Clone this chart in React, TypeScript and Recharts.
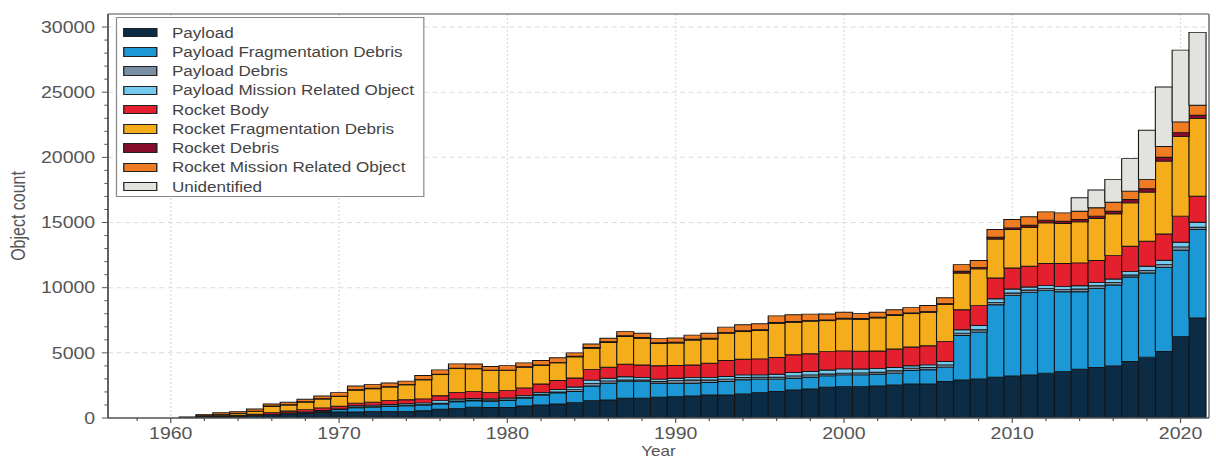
import React from 'react';
import { BarChart, Bar, XAxis, YAxis, CartesianGrid, Legend, ReferenceLine } from 'recharts';

// ---- data ----
const YEARS = [1961,1962,1963,1964,1965,1966,1967,1968,1969,1970,1971,1972,1973,1974,1975,1976,1977,1978,1979,1980,1981,1982,1983,1984,1985,1986,1987,1988,1989,1990,1991,1992,1993,1994,1995,1996,1997,1998,1999,2000,2001,2002,2003,2004,2005,2006,2007,2008,2009,2010,2011,2012,2013,2014,2015,2016,2017,2018,2019,2020,2021];

const PAYLOAD = [30,80,120,150,200,260,330,380,420,460,460,510,510,510,560,670,740,820,800,800,920,1000,1080,1180,1330,1385,1510,1510,1590,1640,1690,1770,1770,1850,1950,2030,2150,2230,2360,2410,2410,2460,2540,2620,2620,2800,2920,3000,3130,3230,3310,3440,3560,3740,3870,4000,4330,4670,5100,6260,7670];
const PAYLOAD_FRAG = [0,0,0,0,0,0,0,30,100,180,330,330,380,430,430,410,510,500,480,540,620,770,850,850,1130,1280,1280,1280,1080,1030,980,950,1030,1080,1030,950,900,900,870,900,900,900,900,1030,1080,1100,3410,3590,5560,6180,6330,6350,6130,5950,6080,6210,6490,6460,6460,6610,6790];
const PAYLOAD_DEBRIS = [0,0,0,0,0,30,40,40,30,30,30,30,30,30,40,50,60,60,50,50,50,50,60,150,200,180,130,130,130,200,250,200,180,180,150,150,180,180,150,130,150,150,180,180,180,180,180,180,180,180,180,160,160,210,200,200,150,200,210,260,180];
const PAYLOAD_MRO = [0,0,0,0,0,0,20,20,30,30,120,120,120,120,130,200,150,120,130,150,130,150,200,200,250,200,250,200,180,180,200,200,200,200,180,230,260,260,300,330,300,300,260,180,200,260,260,330,280,310,230,230,250,250,260,260,280,310,330,360,380];
const ROCKET_BODY = [20,40,60,70,90,120,150,170,200,200,200,230,310,310,310,380,510,540,510,560,590,640,690,690,820,850,950,950,1030,980,950,1080,1230,1200,1230,1280,1360,1360,1410,1380,1360,1330,1410,1440,1460,1540,1540,1520,1590,1610,1590,1670,1750,1750,1670,1790,1930,1920,2020,2000,2000];
const ROCKET_FRAG = [0,60,110,140,230,480,460,580,680,750,1000,1030,1030,1150,1460,1620,1820,1740,1670,1540,1590,1440,1360,1620,1620,1900,2130,2050,1700,1730,1910,1860,2100,2120,2170,2630,2500,2500,2380,2450,2450,2540,2580,2560,2580,2840,2820,2820,3000,2950,3000,3120,3070,3150,3230,3210,3330,3770,5590,6100,5950];
const ROCKET_DEBRIS = [0,0,0,0,0,30,30,30,30,30,30,30,30,30,30,30,30,30,30,30,30,30,30,60,60,60,60,60,60,60,60,60,60,60,60,60,60,60,60,60,60,60,60,60,60,60,130,120,130,130,150,210,180,180,180,200,260,260,300,310,260];
const ROCKET_MRO = [30,100,120,130,170,160,180,190,200,270,280,300,280,250,300,330,330,330,280,350,300,330,350,250,270,270,320,320,320,320,320,380,400,460,460,510,510,480,450,450,400,380,380,400,450,450,510,520,590,640,650,640,640,640,640,690,640,720,820,820,770];
const UNIDENTIFIED = [0,0,0,0,0,0,0,0,0,0,0,0,0,0,0,0,0,0,0,0,0,0,0,0,0,0,0,0,0,0,0,0,0,0,0,0,0,0,0,0,0,0,0,0,0,0,0,0,0,0,0,0,0,1030,1360,1750,2490,3770,4570,5510,5590];

const SERIES_KEYS = ['payload','payloadFrag','payloadDebris','payloadMro','rocketBody','rocketFrag','rocketDebris','rocketMro','unidentified'];
const SERIES_NAMES = ['Payload','Payload Fragmentation Debris','Payload Debris','Payload Mission Related Object','Rocket Body','Rocket Fragmentation Debris','Rocket Debris','Rocket Mission Related Object','Unidentified'];
const SERIES_VALUES = [PAYLOAD, PAYLOAD_FRAG, PAYLOAD_DEBRIS, PAYLOAD_MRO, ROCKET_BODY, ROCKET_FRAG, ROCKET_DEBRIS, ROCKET_MRO, UNIDENTIFIED];

const X_TICKS = [1958,1960,1962,1964,1966,1968,1970,1972,1974,1976,1978,1980,1982,1984,1986,1988,1990,1992,1994,1996,1998,2000,2002,2004,2006,2008,2010,2012,2014,2016,2018,2020];
const X_MAJOR = [1960,1970,1980,1990,2000,2010,2020];
const Y_TICKS = [0,1000,2000,3000,4000,5000,6000,7000,8000,9000,10000,11000,12000,13000,14000,15000,16000,17000,18000,19000,20000,21000,22000,23000,24000,25000,26000,27000,28000,29000,30000];
const Y_MAJOR = [0,5000,10000,15000,20000,25000,30000];

// ---- styles ----
const COLORS = ['#0c2b45','#1b98d5','#7a8fa3','#74c9ee','#e5202e','#f6ad1b','#870b2b','#ef7c22','#e2e2df'];
const FONT = '"Liberation Sans", Arial, Helvetica, sans-serif';
const SX = 1216 / 997;
const X_DOMAIN: [number, number] = [1956.27, 2021.69];
const Y_DOMAIN: [number, number] = [0, 31000];

const data = YEARS.map((year, i) => {
  const row: Record<string, number> = { year };
  SERIES_KEYS.forEach((k, j) => { row[k] = SERIES_VALUES[j][i]; });
  return row;
});

const XTick = (props: any) => {
  const { x, y, payload } = props;
  const v = payload.value;
  const major = X_MAJOR.includes(v);
  return (
    <g>
      <line x1={x} x2={x} y1={y} y2={y + (major ? 5 : 3)} stroke="#555" strokeWidth={1} />
      {major && (
        <text x={x} y={y + 21.5} textAnchor="middle" fill="#555" fontSize={16} fontFamily={FONT}>{v}</text>
      )}
    </g>
  );
};

const YTick = (props: any) => {
  const { x, y, payload } = props;
  const v = payload.value;
  const major = Y_MAJOR.includes(v);
  return (
    <g>
      <line x1={x - (major ? 5 : 3)} x2={x} y1={y} y2={y} stroke="#555" strokeWidth={1} />
      {major && (
        <text x={x - 10.5} y={y} dy={5.7} textAnchor="end" fill="#555" fontSize={16} fontFamily={FONT}>{v}</text>
      )}
    </g>
  );
};

const LegendBox = () => (
  <div style={{ width: 253.4, height: 180, boxSizing: 'border-box', border: '1px solid #8a8a8a', background: '#fff', fontFamily: FONT, fontSize: 14, color: '#444', padding: '5px 0 0 4.5px' }}>
    {SERIES_NAMES.map((name, i) => (
      <div key={name} style={{ display: 'flex', alignItems: 'center', height: 19.25 }}>
        <span style={{ display: 'inline-block', width: 28.7, height: 9.5, background: COLORS[i], border: '1px solid #222', boxSizing: 'border-box' }} />
        <span style={{ marginLeft: 11.7, lineHeight: 1, whiteSpace: 'nowrap' }}>{name}</span>
      </div>
    ))}
  </div>
);

export default function App() {
  return (
    <div style={{ position: 'absolute', left: 0, top: 0, width: 997, height: 459, transform: `scaleX(${SX})`, transformOrigin: '0 0', background: '#fff' }}>
      <BarChart width={997} height={459} data={data} margin={{ top: 14, right: 5.74, bottom: 0, left: 0 }} barCategoryGap={0} barGap={0}>
        <CartesianGrid horizontal={true} vertical={false} horizontalValues={Y_MAJOR} stroke="#dcdcdc" strokeDasharray="4 3" />
        <CartesianGrid horizontal={false} vertical={true} verticalValues={X_MAJOR} stroke="#dcdcdc" strokeDasharray="2 2" />
        <XAxis
          dataKey="year"
          type="number"
          domain={X_DOMAIN}
          allowDataOverflow
          ticks={X_TICKS}
          interval={0}
          tick={<XTick />}
          tickLine={false}
          tickSize={0}
          tickMargin={0}
          height={41}
          axisLine={{ stroke: '#555', strokeWidth: 1.5 }}
          label={{ value: 'Year', position: 'insideBottom', offset: 3, fill: '#555', fontSize: 14, fontFamily: FONT }}
        />
        <YAxis
          type="number"
          domain={Y_DOMAIN}
          allowDataOverflow
          ticks={Y_TICKS}
          interval={0}
          tick={<YTick />}
          tickLine={false}
          tickSize={0}
          tickMargin={0}
          width={88.55}
          axisLine={{ stroke: '#555', strokeWidth: 1.5 }}
          label={{ value: 'Object count', angle: -90, position: 'insideLeft', offset: 14.8, fill: '#555', fontSize: 16, fontFamily: FONT, style: { textAnchor: 'middle' } }}
        />
        <ReferenceLine y={31000} stroke="#888" strokeWidth={1.5} />
        <ReferenceLine x={X_DOMAIN[1]} stroke="#888" strokeWidth={1.5} />
        {SERIES_KEYS.map((k, i) => (
          <Bar key={k} dataKey={k} name={SERIES_NAMES[i]} stackId="a" fill={COLORS[i]} stroke="#151515" strokeWidth={0.9} isAnimationActive={false} />
        ))}
        <Legend
          layout="vertical"
          align="center"
          verticalAlign="middle"
          content={<LegendBox />}
          wrapperStyle={{ position: 'absolute', left: 95.1, top: 17, width: 253.4, height: 180 }}
        />
      </BarChart>
    </div>
  );
}
